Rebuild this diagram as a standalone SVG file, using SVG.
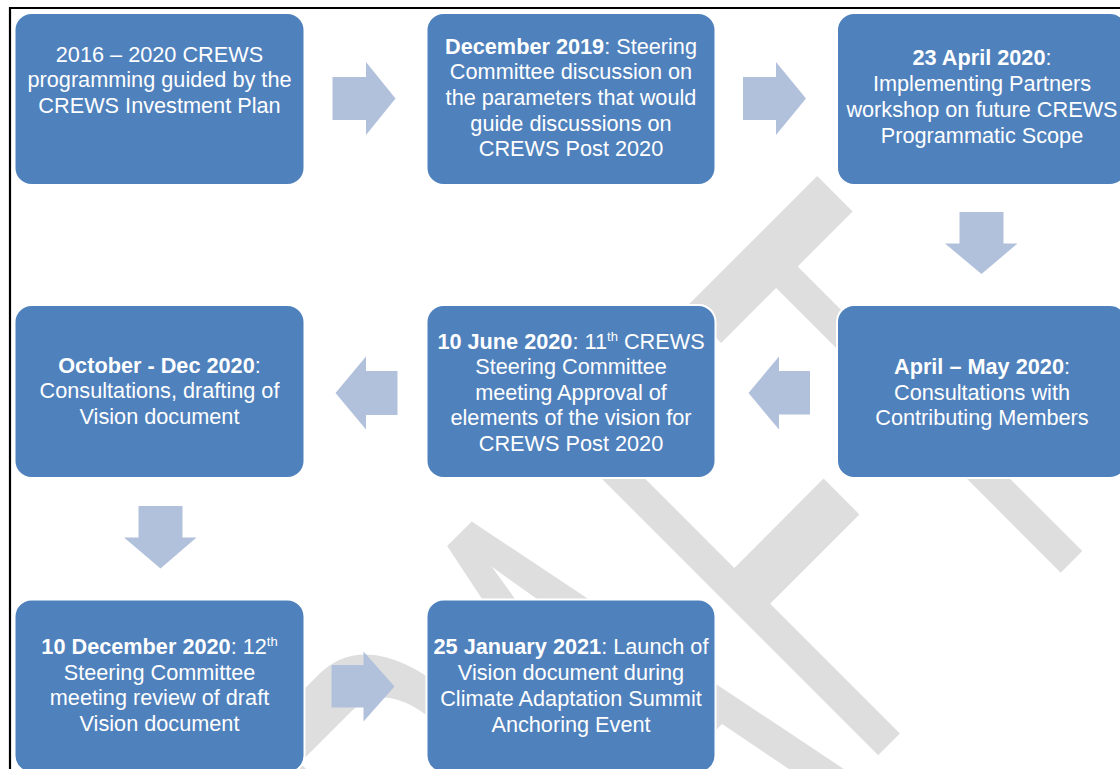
<svg xmlns="http://www.w3.org/2000/svg" width="1120" height="769" viewBox="0 0 1120 769">
  <style>
    .node { fill: #4f81bd; stroke: #ffffff; stroke-width: 2; }
    .lbl { font-family: "Liberation Sans", Arial, sans-serif; font-size: 21.7px; fill: #ffffff; text-anchor: middle; }
    .b { font-weight: bold; }
    .sup { font-size: 13px; }
    .arrow { fill: #b2c1db; }
    .wm { font-family: "Liberation Sans", Arial, sans-serif; font-size: 658px; fill: #dedede; }
  </style>
  <rect x="0" y="0" width="1120" height="769" fill="#ffffff"/>
  <!-- watermark -->
  <g id="watermark" transform="rotate(-45) scale(0.5,1)">
    <text class="wm" x="-1246 -770 -326 120 520" y="1155">DRAFT</text>
  </g>
  <!-- frame -->
  <g id="frame" stroke="#000" stroke-width="2.2" fill="none">
    <line x1="9" y1="8" x2="1120" y2="8"/>
    <line x1="10" y1="7" x2="10" y2="769"/>
  </g>
  <!-- connectors -->
  <g id="connectors">
    <polygon class="arrow" points="332.5,77 366,77 366,62 395.5,98.5 366,135 366,120 332.5,120"/>
    <polygon class="arrow" points="743,77 776,77 776,62 806,98.5 776,135 776,120 743,120"/>
    <polygon class="arrow" points="959.5,212 1003.5,212 1003.5,243.5 1017.5,243.5 981.5,274 945,243.5 959.5,243.5"/>
    <polygon class="arrow" points="810,371 779,371 779,356.5 748.5,393 779,429.5 779,414.5 810,414.5"/>
    <polygon class="arrow" points="397.5,371 366,371 366,356.5 335.5,393 366,429.5 366,415 397.5,415"/>
    <polygon class="arrow" points="138.5,506 182.5,506 182.5,537.5 196.5,537.5 160.5,568.5 124,537.5 138.5,537.5"/>
    <polygon class="arrow" points="331.5,665 363.5,665 363.5,651.5 394.5,686.5 363.5,721.5 363.5,707.5 331.5,707.5"/>
  </g>
  <!-- nodes -->
  <g id="n1">
    <rect class="node" x="14.5" y="13" width="290" height="172" rx="17"/>
    <text class="lbl" x="159.5" y="61.5">2016 – 2020 CREWS</text>
    <text class="lbl" x="159.5" y="87">programming guided by the</text>
    <text class="lbl" x="159.5" y="112.5">CREWS Investment Plan</text>
  </g>
  <g id="n2">
    <rect class="node" x="426.5" y="13" width="289" height="172" rx="17"/>
    <text class="lbl" x="571" y="53.5"><tspan class="b">December 2019</tspan>: Steering</text>
    <text class="lbl" x="571" y="79.2">Committee discussion on</text>
    <text class="lbl" x="571" y="104.9">the parameters that would</text>
    <text class="lbl" x="571" y="130.6">guide discussions on</text>
    <text class="lbl" x="571" y="156.3">CREWS Post 2020</text>
  </g>
  <g id="n3">
    <rect class="node" x="837" y="13" width="290" height="172" rx="17"/>
    <text class="lbl" x="982" y="65"><tspan class="b">23 April 2020</tspan>:</text>
    <text class="lbl" x="982" y="91">Implementing Partners</text>
    <text class="lbl" x="982" y="117">workshop on future CREWS</text>
    <text class="lbl" x="982" y="143">Programmatic Scope</text>
  </g>
  <g id="n4">
    <rect class="node" x="837" y="305" width="290" height="173" rx="17"/>
    <text class="lbl" x="982" y="374"><tspan class="b">April – May 2020</tspan>:</text>
    <text class="lbl" x="982" y="399.5">Consultations with</text>
    <text class="lbl" x="982" y="425">Contributing Members</text>
  </g>
  <g id="n5">
    <rect class="node" x="426.5" y="305" width="289" height="173" rx="17"/>
    <text class="lbl" x="571" y="348.5"><tspan class="b">10 June 2020</tspan>: 11<tspan class="sup" dy="-8">th</tspan><tspan dy="8"> CREWS</tspan></text>
    <text class="lbl" x="571" y="374">Steering Committee</text>
    <text class="lbl" x="571" y="399.5">meeting Approval of</text>
    <text class="lbl" x="571" y="425">elements of the vision for</text>
    <text class="lbl" x="571" y="451">CREWS Post 2020</text>
  </g>
  <g id="n6">
    <rect class="node" x="14.5" y="305" width="290" height="173" rx="17"/>
    <text class="lbl" x="159.5" y="372.5"><tspan class="b">October - Dec 2020</tspan>:</text>
    <text class="lbl" x="159.5" y="398">Consultations, drafting of</text>
    <text class="lbl" x="159.5" y="423.5">Vision document</text>
  </g>
  <g id="n7">
    <rect class="node" x="14.5" y="599.5" width="290" height="173" rx="17"/>
    <text class="lbl" x="159.5" y="654"><tspan class="b">10 December 2020</tspan>: 12<tspan class="sup" dy="-8">th</tspan></text>
    <text class="lbl" x="159.5" y="679.5">Steering Committee</text>
    <text class="lbl" x="159.5" y="705">meeting review of draft</text>
    <text class="lbl" x="159.5" y="731">Vision document</text>
  </g>
  <g id="n8">
    <rect class="node" x="426.5" y="599.5" width="289" height="173" rx="17"/>
    <text class="lbl" x="571" y="654.3"><tspan class="b">25 January 2021</tspan>: Launch of</text>
    <text class="lbl" x="571" y="680">Vision document during</text>
    <text class="lbl" x="571" y="706">Climate Adaptation Summit</text>
    <text class="lbl" x="571" y="731.7">Anchoring Event</text>
  </g>
</svg>
